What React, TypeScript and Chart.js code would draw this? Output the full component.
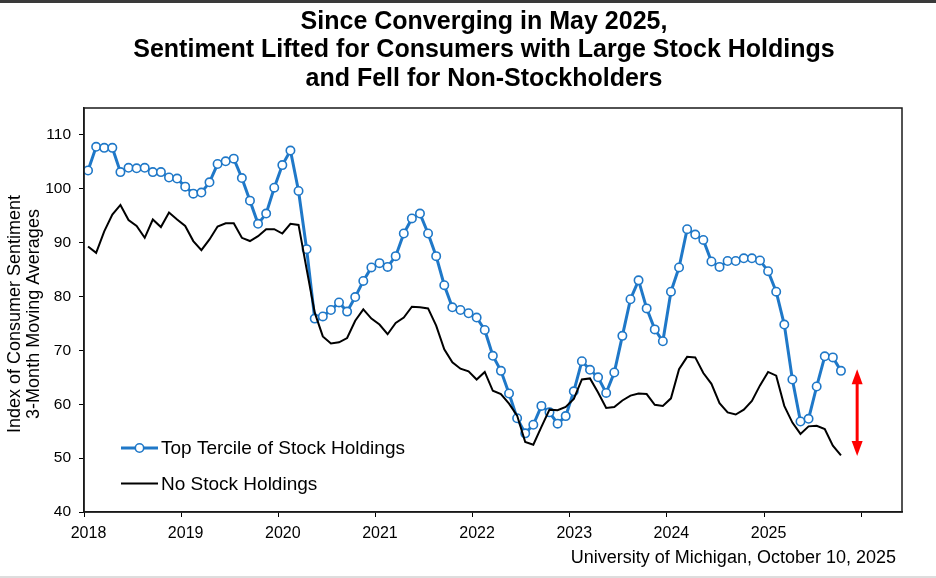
import React, { useEffect, useRef } from "react";
import { Chart, registerables } from "chart.js";

Chart.register(...registerables);

// ---------- data ----------
const START_YEAR = 2018;

// Top tercile of stock holdings, monthly Jan 2018 .. Oct 2025 (3-month moving averages)
const topTercile: number[] = [
  // 2018
  103.4, 107.8, 107.6, 107.6, 103.1, 103.9, 103.8, 103.9, 103.1, 103.1, 102.1, 101.9,
  // 2019
  100.4, 99.1, 99.3, 101.2, 104.6, 105.1, 105.6, 102.0, 97.8, 93.5, 95.4, 100.2,
  // 2020
  104.4, 107.1, 99.6, 88.8, 75.9, 76.3, 77.5, 78.9, 77.2, 79.9, 82.9, 85.4,
  // 2021
  86.2, 85.5, 87.5, 91.7, 94.5, 95.4, 91.7, 87.5, 82.1, 78.0, 77.5, 76.9,
  // 2022
  76.1, 73.8, 69.0, 66.2, 62.0, 57.4, 54.6, 56.2, 59.7, 58.5, 56.4, 57.8,
  // 2023
  62.4, 68.0, 66.4, 65.0, 62.1, 65.9, 72.7, 79.5, 83.0, 77.8, 73.9, 71.7,
  // 2024
  80.9, 85.4, 92.5, 91.5, 90.5, 86.5, 85.5, 86.6, 86.6, 87.1, 87.1, 86.7,
  // 2025
  84.7, 80.9, 74.8, 64.6, 56.8, 57.3, 63.3, 68.9, 68.7, 66.2,
];

// No stock holdings
const noStock: number[] = [
  // 2018
  89.3, 88.1, 92.1, 95.2, 97.0, 94.2, 93.1, 90.9, 94.3, 92.9, 95.6, 94.3,
  // 2019
  93.1, 90.3, 88.6, 90.6, 93.0, 93.6, 93.6, 90.9, 90.3, 91.2, 92.5, 92.5,
  // 2020
  91.7, 93.5, 93.3, 85.1, 77.0, 72.6, 71.3, 71.5, 72.3, 75.5, 77.6, 75.9,
  // 2021
  74.8, 73.0, 75.1, 76.1, 78.1, 78.0, 77.8, 74.6, 70.2, 67.8, 66.6, 66.1,
  // 2022
  64.6, 66.0, 62.5, 61.9, 60.1, 57.9, 53.0, 52.5, 55.8, 59.0, 58.9, 59.5,
  // 2023
  61.0, 64.6, 64.8, 62.2, 59.3, 59.5, 60.7, 61.6, 62.0, 61.9, 59.9, 59.7,
  // 2024
  61.1, 66.5, 68.8, 68.7, 65.8, 63.8, 60.2, 58.5, 58.1, 59.0, 60.6, 63.5,
  // 2025
  66.0, 65.3, 59.7, 56.6, 54.5, 55.9, 56.0, 55.4, 52.3, 50.5,
];

const yearTicks: number[] = [2018, 2019, 2020, 2021, 2022, 2023, 2024, 2025, 2026];
const labeledYears: number[] = [2018, 2019, 2020, 2021, 2022, 2023, 2024, 2025];
const valueTicks: number[] = [40, 50, 60, 70, 80, 90, 100, 110];

// gap arrow (Dec 2025): from top-tercile level down to no-stock level
const arrowMonth = { year: 2025, month: 12 };
const arrowEnds: number[] = [66.5, 50.4];

const titleLines: string[] = [
  "Since Converging in May 2025,",
  "Sentiment Lifted for Consumers with Large Stock Holdings",
  "and Fell for Non-Stockholders",
];
const yTitleLines: string[] = ["Index of Consumer Sentiment", "3-Month Moving Averages"];
const seriesNames: string[] = ["Top Tercile of Stock Holdings", "No Stock Holdings"];
const sourceText = "University of Michigan, October 10, 2025";

// ---------- styles ----------
const BLUE = "#1F78C8";
const BLACK = "#000000";
const FONT = "'Liberation Sans', Arial, sans-serif";

const monthX = (i: number) => START_YEAR + (i + 0.5) / 12;
const toPoints = (vals: number[]) => vals.map((v, i) => ({ x: monthX(i), y: v }));

const decorPlugin = {
  id: "decor",
  beforeDraw(chart: any) {
    const { ctx, width, height } = chart;
    ctx.save();
    ctx.fillStyle = "#ffffff";
    ctx.fillRect(0, 0, width, height);
    ctx.fillStyle = "#3a3a3a";
    ctx.fillRect(0, 0, width, 3);
    ctx.fillStyle = "#dddddd";
    ctx.fillRect(0, height - 2, width, 2);
    ctx.restore();
  },
  afterDraw(chart: any) {
    const { ctx, chartArea } = chart;
    const xs = chart.scales.x;
    const ys = chart.scales.y;
    ctx.save();

    // plot frame
    ctx.strokeStyle = "#1a1a1a";
    ctx.lineWidth = 1.5;
    ctx.strokeRect(chartArea.left, chartArea.top, chartArea.right - chartArea.left, chartArea.bottom - chartArea.top);

    // title
    ctx.fillStyle = "#000";
    ctx.font = `bold 25px ${FONT}`;
    ctx.textAlign = "center";
    ctx.textBaseline = "alphabetic";
    const tx = 484;
    titleLines.forEach((t, i) => ctx.fillText(t, tx, 28.5 + i * 28.5));

    // y-axis title
    ctx.font = `18px ${FONT}`;
    ctx.textAlign = "center";
    ctx.textBaseline = "middle";
    const yc = (chartArea.top + chartArea.bottom) / 2 + 4;
    yTitleLines.forEach((t, i) => {
      ctx.save();
      ctx.translate(15 + i * 19, yc);
      ctx.rotate(-Math.PI / 2);
      ctx.fillText(t, 0, 0);
      ctx.restore();
    });

    // legend
    const lx0 = 121, lx1 = 158, ltx = 161;
    const ly = [448, 483.5];
    ctx.font = `19px ${FONT}`;
    ctx.textAlign = "left";
    ctx.textBaseline = "middle";
    ctx.strokeStyle = BLUE;
    ctx.lineWidth = 3;
    ctx.beginPath();
    ctx.moveTo(lx0, ly[0]);
    ctx.lineTo(lx1, ly[0]);
    ctx.stroke();
    ctx.beginPath();
    ctx.arc((lx0 + lx1) / 2, ly[0], 4.2, 0, Math.PI * 2);
    ctx.fillStyle = "#fff";
    ctx.fill();
    ctx.lineWidth = 1.6;
    ctx.stroke();
    ctx.fillStyle = "#000";
    ctx.fillText(seriesNames[0], ltx, ly[0] + 1);
    ctx.strokeStyle = BLACK;
    ctx.lineWidth = 2;
    ctx.beginPath();
    ctx.moveTo(lx0, ly[1]);
    ctx.lineTo(lx1, ly[1]);
    ctx.stroke();
    ctx.fillText(seriesNames[1], ltx, ly[1] + 1);

    // source
    ctx.font = `18px ${FONT}`;
    ctx.textAlign = "right";
    ctx.textBaseline = "alphabetic";
    ctx.fillText(sourceText, 896, 563);

    // red double arrow
    const ax = xs.getPixelForValue(arrowMonth.year + (arrowMonth.month - 0.5) / 12);
    const ay0 = ys.getPixelForValue(arrowEnds[0]);
    const ay1 = ys.getPixelForValue(arrowEnds[1]);
    const hw = 5.5, hh = 15;
    ctx.strokeStyle = "#FF0000";
    ctx.fillStyle = "#FF0000";
    ctx.lineWidth = 3;
    ctx.beginPath();
    ctx.moveTo(ax, ay0 + hh - 1);
    ctx.lineTo(ax, ay1 - hh + 1);
    ctx.stroke();
    ctx.beginPath();
    ctx.moveTo(ax, ay0);
    ctx.lineTo(ax - hw, ay0 + hh);
    ctx.lineTo(ax + hw, ay0 + hh);
    ctx.closePath();
    ctx.fill();
    ctx.beginPath();
    ctx.moveTo(ax, ay1);
    ctx.lineTo(ax - hw, ay1 - hh);
    ctx.lineTo(ax + hw, ay1 - hh);
    ctx.closePath();
    ctx.fill();

    ctx.restore();
  },
};

export default function App() {
  const canvasRef = useRef<HTMLCanvasElement | null>(null);

  useEffect(() => {
    document.body.style.margin = "0";
    const canvas = canvasRef.current;
    if (!canvas) return;
    const chart = new Chart(canvas, {
      type: "line",
      data: {
        datasets: [
          {
            label: seriesNames[1],
            data: toPoints(noStock),
            borderColor: BLACK,
            borderWidth: 2,
            pointRadius: 0,
            tension: 0,
            order: 0,
          },
          {
            label: seriesNames[0],
            data: toPoints(topTercile),
            borderColor: BLUE,
            borderWidth: 3,
            pointRadius: 4.2,
            pointBorderWidth: 1.6,
            pointBackgroundColor: "#ffffff",
            pointBorderColor: BLUE,
            tension: 0,
            order: 1,
          },
        ],
      },
      options: {
        responsive: false,
        animation: false,
        layout: { padding: { top: 108, right: 34, left: 0, bottom: 0 } },
        plugins: {
          legend: { display: false },
          title: { display: false },
          tooltip: { enabled: false },
        },
        scales: {
          x: {
            type: "linear",
            min: 2018,
            max: 2026.42,
            afterBuildTicks: (s: any) => {
              s.ticks = yearTicks.map((v) => ({ value: v }));
            },
            afterFit: (s: any) => {
              s.height = 66;
            },
            ticks: {
              autoSkip: false,
              maxRotation: 0,
              minRotation: 0,
              padding: 7,
              labelOffset: 4.5,
              color: "#000",
              font: { family: FONT, size: 16 },
              callback: (v: any) => (labeledYears.includes(Number(v)) ? String(v) : ""),
            },
            grid: { drawOnChartArea: false, drawTicks: true, tickLength: 5, color: "#000", lineWidth: 1 },
            border: { display: true, color: "#1a1a1a", width: 1.5 },
          },
          y: {
            type: "linear",
            min: 40,
            max: 115,
            afterBuildTicks: (s: any) => {
              s.ticks = valueTicks.map((v) => ({ value: v }));
            },
            afterFit: (s: any) => {
              s.width = 84;
            },
            ticks: {
              padding: 8,
              color: "#000",
              font: { family: FONT, size: 15.5 },
              callback: (v: any) => String(v),
            },
            grid: { drawOnChartArea: false, drawTicks: true, tickLength: 5, color: "#000", lineWidth: 1 },
            border: { display: true, color: "#1a1a1a", width: 1.5 },
          },
        },
      },
      plugins: [decorPlugin],
    });
    return () => chart.destroy();
  }, []);

  return (
    <div style={{ width: 936, height: 578 }}>
      <canvas ref={canvasRef} width={936} height={578} style={{ display: "block" }} />
    </div>
  );
}
